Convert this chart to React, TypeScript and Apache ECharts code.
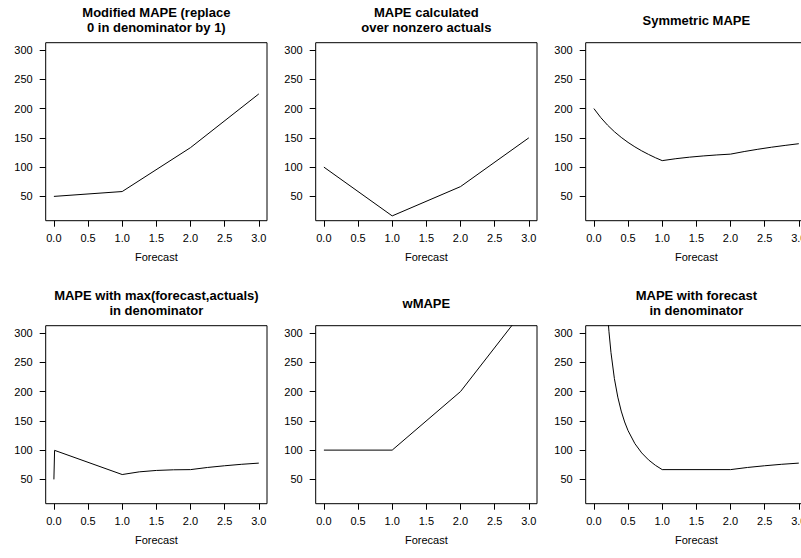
import React, { useEffect, useRef } from "react";
import * as echarts from "echarts";

// ---- data ----
const titles = [
  "Modified MAPE (replace\n0 in denominator by 1)",
  "MAPE calculated\nover nonzero actuals",
  "Symmetric MAPE",
  "MAPE with max(forecast,actuals)\nin denominator",
  "wMAPE",
  "MAPE with forecast\nin denominator",
];

const modifiedX = [0, 1, 2, 3];
const modifiedY = [50, 58.3, 133.3, 225];

const nonzeroX = [0, 1, 2, 3];
const nonzeroY = [100, 16.7, 66.7, 150];

const symmetricX = [0, 0.1, 0.2, 0.3, 0.4, 0.5, 0.6, 0.7, 0.8, 0.9, 1, 1.2, 1.4, 1.6, 1.8, 2, 2.2, 2.4, 2.6, 2.8, 3];
const symmetricY = [200, 184.7, 171.7, 160.5, 150.8, 142.2, 134.6, 127.8, 121.7, 116.1, 111.1, 114.4, 117.0, 119.1, 120.8, 122.2, 126.6, 130.5, 134.0, 137.1, 140.0];

const maxDenX = [0, 0.01, 1, 1.25, 1.5, 1.75, 2, 2.25, 2.5, 2.75, 3];
const maxDenY = [50, 99.6, 58.3, 62.9, 65.3, 66.4, 66.7, 70.4, 73.3, 75.8, 77.8];

const wmapeX = [0, 1, 2, 3];
const wmapeY = [100, 100, 200, 350];

const forecastDenX = [0.2, 0.22, 0.25, 0.3, 0.35, 0.4, 0.45, 0.5, 0.6, 0.7, 0.8, 0.9, 1, 2, 2.25, 2.5, 2.75, 3];
const forecastDenY = [333.3, 303.0, 266.7, 222.2, 190.5, 166.7, 148.1, 133.3, 111.1, 95.2, 83.3, 74.1, 66.7, 66.7, 70.4, 73.3, 75.8, 77.8];

const xTicks = [0, 0.5, 1, 1.5, 2, 2.5, 3];
const yTicks = [50, 100, 150, 200, 250, 300];
const xAxisTitle = "Forecast";

const seriesX = [modifiedX, nonzeroX, symmetricX, maxDenX, wmapeX, forecastDenX];
const seriesY = [modifiedY, nonzeroY, symmetricY, maxDenY, wmapeY, forecastDenY];

// ---- layout ----
const colLeft = [45.7, 315.7, 585.7];
const rowTop = [42.7, 325.7];
const gridW = 221.3;
const gridH = 178;
const FONT = '"Liberation Sans", Arial, Helvetica, sans-serif';

export default function App() {
  const ref = useRef<HTMLDivElement>(null);
  useEffect(() => {
    if (!ref.current) return;
    const chart = echarts.init(ref.current, undefined, { renderer: "svg" });
    const grids: any[] = [];
    const xAxes: any[] = [];
    const yAxes: any[] = [];
    const series: any[] = [];
    const graphics: any[] = [];
    for (let i = 0; i < 6; i++) {
      const r = Math.floor(i / 3);
      const c = i % 3;
      grids.push({
        left: colLeft[c],
        top: rowTop[r],
        width: gridW,
        height: gridH,
        show: true,
        borderColor: "#000",
        borderWidth: 1,
        backgroundColor: "transparent",
        containLabel: false,
        outerBoundsMode: "none",
      });
      xAxes.push({
        type: "value",
        gridIndex: i,
        position: "bottom",
        min: -0.12,
        max: 3.12,
        axisLine: { show: false, onZero: false },
        splitLine: { show: false },
        axisTick: { show: true, length: 6, customValues: xTicks, lineStyle: { color: "#000", width: 1 } },
        axisLabel: {
          customValues: xTicks,
          formatter: (v: number) => v.toFixed(1),
          margin: 12,
          fontSize: 11,
          color: "#000",
          fontFamily: FONT,
        },
        name: xAxisTitle,
        nameLocation: "middle",
        nameGap: 31,
        nameTextStyle: { fontSize: 11, color: "#000", fontFamily: FONT },
      });
      yAxes.push({
        type: "value",
        gridIndex: i,
        position: "left",
        min: 8.5,
        max: 312.5,
        axisLine: { show: false, onZero: false },
        splitLine: { show: false },
        axisTick: { show: true, length: 6, customValues: yTicks, lineStyle: { color: "#000", width: 1 } },
        axisLabel: {
          customValues: yTicks,
          margin: 13,
          fontSize: 11,
          color: "#000",
          fontFamily: FONT,
        },
      });
      series.push({
        type: "line",
        xAxisIndex: i,
        yAxisIndex: i,
        showSymbol: false,
        symbol: "none",
        clip: true,
        lineStyle: { color: "#000", width: 1 },
        data: seriesX[i].map((x, k) => [x, seriesY[i][k]]),
      });
      graphics.push({
        type: "text",
        x: colLeft[c] + gridW / 2,
        y: r === 0 ? 20 : 303,
        style: {
          text: titles[i],
          textAlign: "center",
          textVerticalAlign: "middle",
          font: `bold 13px ${FONT}`,
          lineHeight: 15.5,
          fill: "#000",
        },
      });
    }
    chart.setOption({
      animation: false,
      backgroundColor: "#fff",
      grid: grids,
      xAxis: xAxes,
      yAxis: yAxes,
      series,
      graphic: graphics,
    });
    return () => chart.dispose();
  }, []);
  return (
    <div
      ref={ref}
      style={{ position: "absolute", left: 0, top: 0, width: 801, height: 558 }}
    />
  );
}
